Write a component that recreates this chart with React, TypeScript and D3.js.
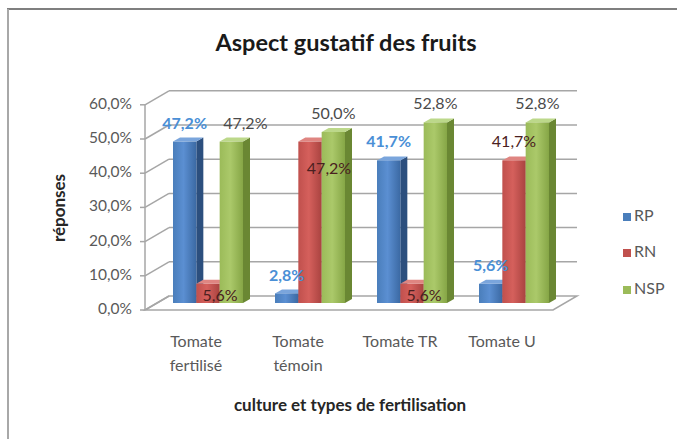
import React from "react";
import * as d3 from "d3";

const categories = [["Tomate", "fertilisé"], ["Tomate", "témoin"], ["Tomate TR"], ["Tomate U"]];
const seriesNames = ["RP", "RN", "NSP"];
const rpValues = [47.2, 2.8, 41.7, 5.6];
const rnValues = [5.6, 47.2, 5.6, 41.7];
const nspValues = [47.2, 50.0, 52.8, 52.8];
const yTicks = [0, 10, 20, 30, 40, 50, 60];
const title = "Aspect gustatif des fruits";
const xTitle = "culture et types de fertilisation";
const yTitle = "réponses";

// label placement per series (Excel-like manual placements)
const rpPlacement = ["above", "above", "above", "above"];
const rnPlacement = ["base", "inside", "base", "above"];
const nspPlacement = ["aboveRight", "above", "above", "above"];

const W = 677;
const H = 439;
const FONT = "Lato, 'Open Sans', sans-serif";

const colors = [
  { light: "#5b8fd2", mid: "#4a7ebb", dark: "#3b69a3", side: "#2c4f7e", top: "#7aa5dc", label: "#4a8fd6" },
  { light: "#d5605c", mid: "#c0504d", dark: "#a94340", side: "#853230", top: "#df8581", label: "#4a2020" },
  { light: "#abc96a", mid: "#9bbb59", dark: "#86a646", side: "#6a8733", top: "#bcd88a", label: "#4a4a4a" },
];

export default function App() {
  const x0 = 145, x1 = 553;
  const yBase = 310;
  const DX = 24, DY = -14; // wall depth
  const BX = 12, BY = -7; // bar depth position
  const SX = 7, SY = -4; // bar thickness

  const yFront = d3.scaleLinear().domain([0, 60]).range([yBase, 104.8]);
  const xCat = d3.scaleBand<number>().domain(d3.range(categories.length)).range([x0, x1]).paddingInner(0).paddingOuter(0);
  const groupW = 70;
  const xSer = d3.scaleBand<number>().domain(d3.range(3)).range([0, groupW]);
  const fmt = (v: number) => d3.format(".1f")(v).replace(".", ",") + "%";

  const allValues = [rpValues, rnValues, nspValues];
  const placements = [rpPlacement, rnPlacement, nspPlacement];

  const bars: React.ReactNode[] = [];
  const labels: React.ReactNode[] = [];
  categories.forEach((_, ci) => {
    const gx = (xCat(ci) as number) + xCat.bandwidth() / 2 - groupW / 2 + BX;
    allValues.forEach((vals, si) => {
      const v = vals[ci];
      const bw = xSer.bandwidth();
      const bx = gx + (xSer(si) as number);
      const yb = yFront(0) + BY;
      const yt = yFront(v) + BY;
      const c = colors[si];
      bars.push(
        <g key={`b${ci}-${si}`}>
          <polygon
            points={`${bx + bw},${yt} ${bx + bw + SX},${yt + SY} ${bx + bw + SX},${yb + SY} ${bx + bw},${yb}`}
            fill={c.side}
          />
          <polygon
            points={`${bx},${yt} ${bx + SX},${yt + SY} ${bx + bw + SX},${yt + SY} ${bx + bw},${yt}`}
            fill={c.top}
          />
          <rect x={bx} y={yt} width={bw} height={yb - yt} fill={`url(#grad${si})`} />
        </g>
      );
      const p = placements[si][ci];
      let lx = bx + bw / 2;
      let ly = yt - 17;
      if (p === "base") {
        lx += 12;
        ly = yb - 6;
      } else if (p === "inside") {
        lx += 19;
        ly = yt + 28;
      } else if (p === "aboveRight") {
        lx += 14;
      }
      labels.push(
        <text
          key={`l${ci}-${si}`}
          x={lx}
          y={ly}
          textAnchor="middle"
          dominantBaseline="middle"
          fontFamily={FONT}
          fontSize={16}
          fontWeight={si === 0 ? 700 : 400}
          fill={c.label}
        >
          {fmt(v)}
        </text>
      );
    });
  });

  const legendY = [217, 253, 290];

  return (
    <svg width={W} height={H} style={{ position: "absolute", left: 0, top: 0, background: "#fff" }}>
      <defs>
        {colors.map((c, i) => (
          <linearGradient key={i} id={`grad${i}`} x1="0" x2="1" y1="0" y2="0">
            <stop offset="0%" stopColor={c.mid} />
            <stop offset="45%" stopColor={c.light} />
            <stop offset="100%" stopColor={c.dark} />
          </linearGradient>
        ))}
      </defs>
      {/* frame */}
      <line x1={7} y1={9} x2={W} y2={9} stroke="#7f7f7f" strokeWidth={2.2} />
      <line x1={8} y1={9} x2={8} y2={H} stroke="#a8a8a8" strokeWidth={2} />

      <text x={346} y={45} textAnchor="middle" dominantBaseline="middle" fontFamily={FONT} fontSize={23.5} fontWeight={700} fill="#1a1a1a">
        {title}
      </text>

      {/* floor */}
      <polygon
        points={`${x0},${yBase} ${x1},${yBase} ${x1 + DX},${yBase + DY} ${x0 + DX},${yBase + DY}`}
        fill="#fff"
        stroke="#a6a6a6"
        strokeWidth={1.5}
      />
      {/* gridlines */}
      {yTicks.map((t) => (
        <g key={`g${t}`}>
          {t > 0 && (
            <line x1={x0 + DX} x2={x1 + DX} y1={yFront(t) + DY} y2={yFront(t) + DY} stroke="#a6a6a6" strokeWidth={1.5} />
          )}
          <line x1={x0} x2={x0 + DX} y1={yFront(t)} y2={yFront(t) + DY} stroke="#a6a6a6" strokeWidth={1.5} />
          <line x1={x0 - 5} x2={x0} y1={yFront(t)} y2={yFront(t)} stroke="#a6a6a6" strokeWidth={1.5} />
          <text x={132} y={yFront(t)} textAnchor="end" dominantBaseline="middle" fontFamily={FONT} fontSize={15.5} fill="#595959">
            {fmt(t)}
          </text>
        </g>
      ))}
      <line x1={x0} x2={x0} y1={yFront(0)} y2={yFront(60)} stroke="#a6a6a6" strokeWidth={1.5} />

      {bars}
      {labels}

      {/* category labels */}
      {categories.map((lines, ci) => (
        <text
          key={`c${ci}`}
          x={(xCat(ci) as number) + xCat.bandwidth() / 2}
          y={343}
          textAnchor="middle"
          dominantBaseline="middle"
          fontFamily={FONT}
          fontSize={16}
          fill="#595959"
        >
          {lines.map((ln, li) => (
            <tspan key={li} x={(xCat(ci) as number) + xCat.bandwidth() / 2} dy={li === 0 ? 0 : 24}>
              {ln}
            </tspan>
          ))}
        </text>
      ))}

      <text x={350} y={407} textAnchor="middle" dominantBaseline="middle" fontFamily={FONT} fontSize={17} fontWeight={700} fill="#262626">
        {xTitle}
      </text>
      <text
        transform={`translate(61,208) rotate(-90)`}
        textAnchor="middle"
        dominantBaseline="middle"
        fontFamily={FONT}
        fontSize={17}
        fontWeight={700}
        fill="#262626"
      >
        {yTitle}
      </text>

      {/* legend */}
      {seriesNames.map((s, i) => (
        <g key={s}>
          <rect x={623} y={legendY[i] - 4} width={8} height={8} fill={colors[i].mid} />
          <text x={634} y={legendY[i]} dominantBaseline="middle" fontFamily={FONT} fontSize={16} fill="#595959">
            {s}
          </text>
        </g>
      ))}
    </svg>
  );
}
